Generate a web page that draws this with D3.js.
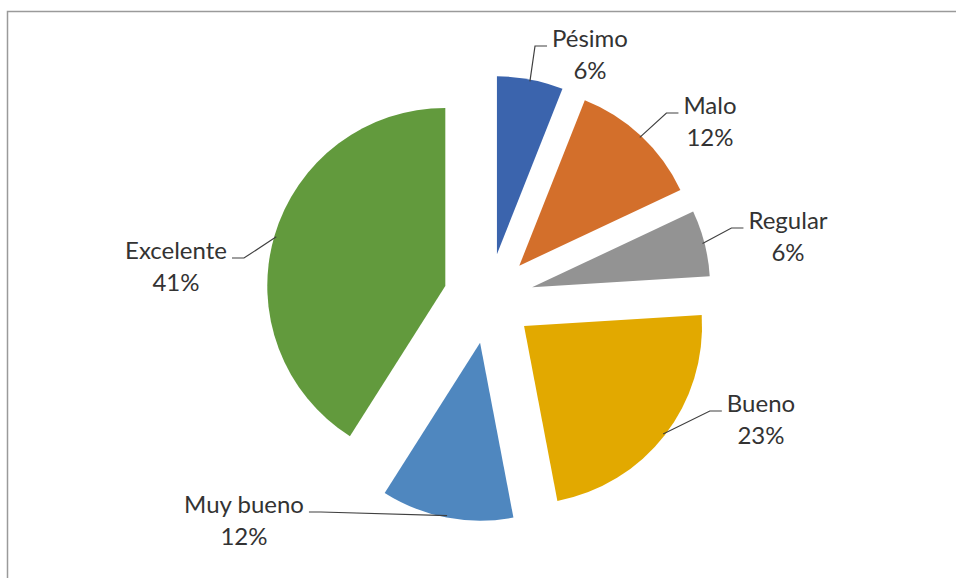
<!DOCTYPE html>
<html>
<head>
<meta charset="utf-8">
<script src="https://cdn.jsdelivr.net/npm/d3@7"></script>
<style>
  html, body { margin: 0; padding: 0; background: #fff; }
  svg { display: block; }
  text { font-family: Lato, "Open Sans", sans-serif; fill: #333; }
</style>
</head>
<body>
<svg id="chart" width="956" height="578"></svg>
<script>
// Survey ratings, share of responses (%)
const categories = ["Pésimo", "Malo", "Regular", "Bueno", "Muy bueno", "Excelente"];
const percentages = [6, 12, 6, 23, 12, 41];
const sliceColors = ["#3b64ad", "#d36f2b", "#939393", "#e2a900", "#4f87bf", "#629a3d"];

// Label placement: centre x and first-line baseline, and which side the leader enters from
const labelLayout = [
  { x: 590, y: 47, side: "right" },
  { x: 710, y: 114, side: "right" },
  { x: 788, y: 229, side: "right" },
  { x: 761, y: 412, side: "right" },
  { x: 244, y: 513, side: "left" },
  { x: 176, y: 259, side: "left" }
];

const W = 956, H = 578;
const cx = 488.5, cy = 298.5;
const radius = 178;
const explode = 45;
const fontSize = 24;
const lineGap = 32;

const svg = d3.select("#chart");

// Chart area frame
svg.append("rect")
  .attr("x", 7.5).attr("y", 11.5)
  .attr("width", W + 20).attr("height", H + 20)
  .attr("fill", "none")
  .attr("stroke", "#9a9a9a")
  .attr("stroke-width", 1.5);

const data = categories.map((c, i) => ({ name: c, value: percentages[i], color: sliceColors[i], layout: labelLayout[i] }));

const pie = d3.pie().value(d => d.value).sort(null).startAngle(0).endAngle(2 * Math.PI);
const arc = d3.arc().innerRadius(0).outerRadius(radius);

const arcs = pie(data);
const root = svg.append("g").attr("transform", `translate(${cx},${cy})`);

function offsetOf(a) {
  const mid = (a.startAngle + a.endAngle) / 2;
  return [Math.sin(mid) * explode, -Math.cos(mid) * explode, mid];
}

root.selectAll("path.slice")
  .data(arcs)
  .join("path")
  .attr("class", "slice")
  .attr("transform", a => { const [dx, dy] = offsetOf(a); return `translate(${dx},${dy})`; })
  .attr("d", arc)
  .attr("fill", a => a.data.color);

// Labels with leader lines
const labels = svg.append("g");
arcs.forEach(a => {
  const L = a.data.layout;
  const [dx, dy, mid] = offsetOf(a);
  const ax = cx + dx + Math.sin(mid) * (radius - 2);
  const ay = cy + dy - Math.cos(mid) * (radius - 2);

  const t1 = labels.append("text")
    .attr("x", L.x).attr("y", L.y)
    .attr("text-anchor", "middle")
    .attr("font-size", fontSize)
    .text(a.data.name);
  labels.append("text")
    .attr("x", L.x).attr("y", L.y + lineGap)
    .attr("text-anchor", "middle")
    .attr("font-size", fontSize)
    .text(d3.format(".0f")(a.data.value) + "%");

  const w = t1.node().getComputedTextLength();
  let ex, elx;
  if (L.side === "right") {
    ex = L.x - w / 2 - 5;
    elx = ex - 12;
  } else {
    ex = L.x + w / 2 + 5;
    elx = ex + 12;
  }
  const ey = L.y - 1;
  labels.append("path")
    .attr("d", d3.line()([[ax, ay], [elx, ey], [ex, ey]]))
    .attr("fill", "none")
    .attr("stroke", "#404040")
    .attr("stroke-width", 1.2);
});
</script>
</body>
</html>
